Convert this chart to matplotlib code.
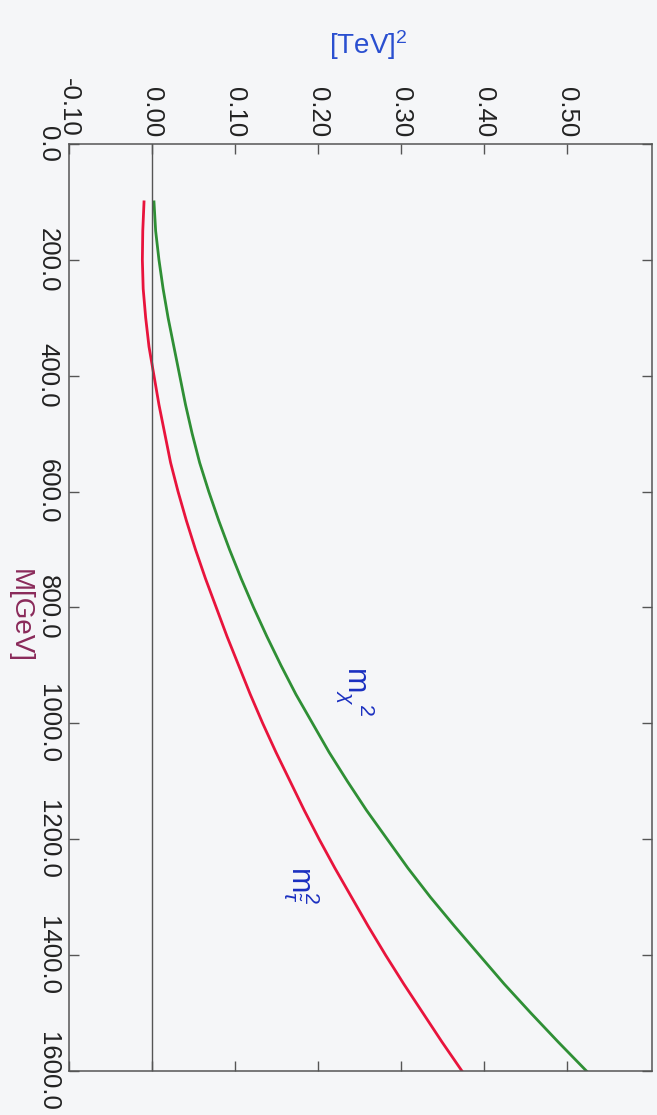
import matplotlib
matplotlib.use("Agg")
import matplotlib.pyplot as plt
from matplotlib.ticker import FixedLocator, FormatStrFormatter

plt.rcParams['font.family'] = ['Liberation Sans', 'DejaVu Sans']
plt.rcParams['axes.unicode_minus'] = False
plt.rcParams['mathtext.fontset'] = 'custom'
plt.rcParams['mathtext.rm'] = 'Liberation Sans'
plt.rcParams['mathtext.it'] = 'Liberation Sans:italic'

# Data (M in GeV, squared masses in TeV^2)
M_gev = [100, 150, 200, 250, 300, 350, 400, 450, 500, 550, 600, 650, 700, 750,
         800, 850, 900, 950, 1000, 1050, 1100, 1150, 1200, 1250, 1300, 1350,
         1400, 1450, 1500, 1550, 1600]
m_chi_sq = [0.002, 0.004, 0.008, 0.013, 0.019, 0.026, 0.033, 0.040, 0.048, 0.057,
            0.068, 0.080, 0.093, 0.107, 0.122, 0.138, 0.155, 0.173, 0.193, 0.213,
            0.235, 0.258, 0.283, 0.308, 0.335, 0.364, 0.394, 0.424, 0.456, 0.489,
            0.523]
m_stau_sq = [-0.010, -0.0115, -0.012, -0.011, -0.008, -0.004, 0.002, 0.008, 0.015,
             0.022, 0.031, 0.041, 0.052, 0.064, 0.077, 0.090, 0.104, 0.118, 0.133,
             0.149, 0.166, 0.183, 0.201, 0.220, 0.240, 0.260, 0.281, 0.303, 0.326,
             0.349, 0.373]
value_ticks = [-0.10, 0.00, 0.10, 0.20, 0.30, 0.40, 0.50]
mass_ticks = [0.0, 200.0, 400.0, 600.0, 800.0, 1000.0, 1200.0, 1400.0, 1600.0]

bg = '#f5f6f8'
fig = plt.figure(figsize=(6.57, 11.15), dpi=100, facecolor=bg)
ax = fig.add_axes([0.1055, 0.0395, 0.8869, 0.8314])
ax.set_facecolor(bg)

# Rotated chart: squared mass runs horizontally, M runs vertically (downward)
ax.plot(m_chi_sq, M_gev, color='#2f8f35', lw=2.0, solid_joinstyle='round')
ax.plot(m_stau_sq, M_gev, color='#e8143c', lw=2.0, solid_joinstyle='round')
ax.axvline(0.0, color='#555555', lw=1.0)

ax.set_xlim(-0.10, 0.602)
ax.set_ylim(1600, 0)

ax.xaxis.set_major_locator(FixedLocator(value_ticks))
ax.xaxis.set_major_formatter(FormatStrFormatter('%.2f'))
ax.yaxis.set_major_locator(FixedLocator(mass_ticks))
ax.yaxis.set_major_formatter(FormatStrFormatter('%.1f'))

ax.tick_params(axis='x', which='both', direction='in', top=True, bottom=True,
               labeltop=True, labelbottom=False, length=7, width=1.0,
               color='#555555', labelsize=18.5, pad=5, labelrotation=-90,
               labelcolor='#222222')
ax.tick_params(axis='y', which='both', direction='in', left=True, right=True,
               labelleft=True, labelright=False, length=7, width=1.0,
               color='#555555', labelsize=18.5, pad=7, labelrotation=-90,
               labelcolor='#222222')
for lab in ax.get_xticklabels():
    lab.set_va('bottom')
for lab in ax.get_yticklabels():
    lab.set_ha('right')
    lab.set_va('center')

for s in ax.spines.values():
    s.set_color('#555555')
    s.set_linewidth(1.1)

fig.text(368 / 657, 1 - 45 / 1115, r'[TeV]$^2$', color='#2a4fd0', fontsize=20,
         ha='center', va='center')
fig.text(20 / 657, 1 - 616 / 1115, 'M[GeV]', color='#8a2a5a', fontsize=20,
         rotation=-90, ha='center', va='center')

ax.text(0.245, 944, r'$\mathrm{m}_{\chi}^{\ \ 2}$', color='#1a2fc0', fontsize=22,
        rotation=-90, ha='center', va='center')
ax.text(0.180, 1279, r'$\mathrm{m}_{\tilde{\tau}}^{2}$', color='#1a2fc0', fontsize=22,
        rotation=-90, ha='center', va='center')

fig.savefig('out.png', dpi=100, facecolor=bg)
